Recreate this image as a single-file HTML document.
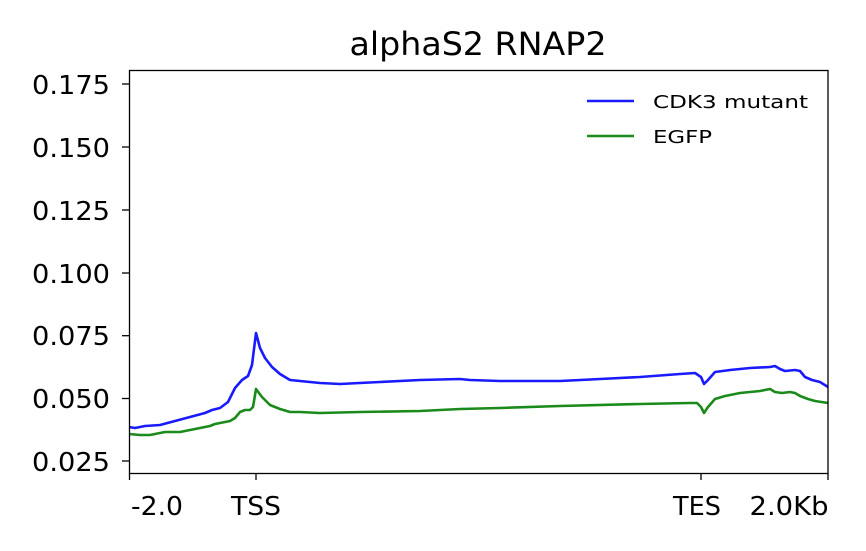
<!DOCTYPE html>
<html><head><meta charset="utf-8"><style>body{margin:0;background:#fff}svg{display:block}text{font-family:"DejaVu Sans","Liberation Sans",sans-serif;fill:#000}</style></head><body>
<svg width="866" height="551" viewBox="0 0 866 551">
<rect width="866" height="551" fill="#fff"/>
<text x="478" y="55" font-size="32" text-anchor="middle" textLength="257" lengthAdjust="spacingAndGlyphs">alphaS2 RNAP2</text>
<g stroke="#000" stroke-width="1.3">
<line x1="122" y1="84" x2="129" y2="84"/><line x1="122" y1="147" x2="129" y2="147"/><line x1="122" y1="210" x2="129" y2="210"/><line x1="122" y1="273" x2="129" y2="273"/><line x1="122" y1="335.7" x2="129" y2="335.7"/><line x1="122" y1="398.5" x2="129" y2="398.5"/><line x1="122" y1="461" x2="129" y2="461"/>
<line x1="129.5" y1="473" x2="129.5" y2="480"/><line x1="256" y1="473" x2="256" y2="480"/><line x1="701" y1="473" x2="701" y2="480"/><line x1="828" y1="473" x2="828" y2="480"/>
</g>
<g font-size="26" text-anchor="end">
<text x="110" y="94" textLength="78" lengthAdjust="spacingAndGlyphs">0.175</text><text x="110" y="157" textLength="78" lengthAdjust="spacingAndGlyphs">0.150</text><text x="110" y="220" textLength="78" lengthAdjust="spacingAndGlyphs">0.125</text><text x="110" y="283" textLength="78" lengthAdjust="spacingAndGlyphs">0.100</text><text x="110" y="345" textLength="78" lengthAdjust="spacingAndGlyphs">0.075</text><text x="110" y="408" textLength="78" lengthAdjust="spacingAndGlyphs">0.050</text><text x="110" y="471" textLength="78" lengthAdjust="spacingAndGlyphs">0.025</text>
</g>
<g font-size="26" text-anchor="middle">
<text x="157" y="515" textLength="52" lengthAdjust="spacingAndGlyphs">-2.0</text><text x="256" y="515" textLength="50" lengthAdjust="spacingAndGlyphs">TSS</text><text x="697" y="515" textLength="48" lengthAdjust="spacingAndGlyphs">TES</text><text x="789" y="515" textLength="79" lengthAdjust="spacingAndGlyphs">2.0Kb</text>
</g>
<polyline fill="none" stroke="#1a1aff" stroke-width="2.6" stroke-linejoin="round" points="129,427 135,428 145,426 160,425 175,421 190,417 205,413 212,410 220,408 228,402 235,388 242,380 248,376 252,365 256,333 260,348 265,358 272,367 280,374 290,380 300,381 320,383 340,384 380,382 420,380 460,379 470,380 500,381 560,381 600,379 640,377 680,374 695,373 701,377 704,384 708,380 715,372 730,370 740,369 750,368 770,367 775,366 780,369 785,371 795,370 800,371 805,377 812,380 820,382 828,387"/>
<polyline fill="none" stroke="#1a8a1a" stroke-width="2.6" stroke-linejoin="round" points="129,434 140,435 150,435 165,432 180,432 190,430 200,428 210,426 215,424 225,422 230,421 235,418 240,412 245,410 250,410 253,407 256,389 262,397 270,405 280,409 290,412 300,412 320,413 360,412 420,411 460,409 500,408 560,406 640,404 690,403 697,403 701,407 704,413 708,407 715,399 725,396 740,393 760,391 770,389 775,392 782,393 790,392 795,393 800,396 808,399 815,401 828,403"/>
<rect x="129.5" y="70.5" width="698.5" height="403" fill="none" stroke="#000" stroke-width="1.3"/>
<line x1="587" y1="101" x2="634" y2="101" stroke="#1a1aff" stroke-width="2.6"/>
<line x1="587" y1="136" x2="634" y2="136" stroke="#1a8a1a" stroke-width="2.6"/>
<text x="653" y="108" font-size="18" textLength="155" lengthAdjust="spacingAndGlyphs">CDK3 mutant</text>
<text x="653" y="143" font-size="18" textLength="59" lengthAdjust="spacingAndGlyphs">EGFP</text>
</svg>
</body></html>
